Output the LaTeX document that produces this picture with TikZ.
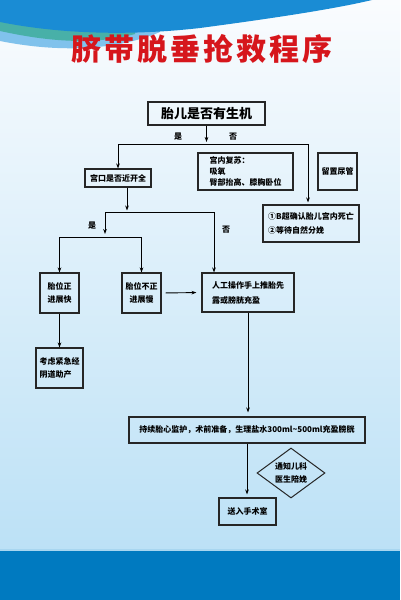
\documentclass[tikz,border=0pt]{standalone}
\usepackage{fontspec}
\usepackage{xcolor}
\usetikzlibrary{arrows.meta,shapes.geometric}
\setmainfont{Noto Sans CJK SC}

\definecolor{bgtop}{RGB}{250,252,254}
\definecolor{bgbot}{RGB}{188,225,246}
\definecolor{wavblue}{RGB}{26,140,212}
\definecolor{wavteal}{RGB}{72,176,168}
\definecolor{wavlight}{RGB}{128,194,236}
\definecolor{bandblue}{RGB}{0,122,192}
\definecolor{bandline}{RGB}{168,214,240}
\definecolor{titlered}{RGB}{214,22,28}

\tikzset{
  box/.style={draw=black!85, line width=1.1pt, inner sep=2pt, align=center,
    font=\fontsize{8}{13}\selectfont\bfseries},
  arr/.style={-{Stealth[length=5pt,width=3.6pt]}, line width=0.9pt},
  link/.style={line width=0.9pt},
  lbl/.style={font=\fontsize{8}{9}\selectfont\bfseries}
}

\begin{document}
\begin{tikzpicture}[x=1pt,y=-1pt]
    \useasboundingbox (0,0) rectangle (400,600);

    % Background
    \shade[top color=bgtop, bottom color=bgbot] (0,0) rectangle (400,550);
    \fill[bandblue] (0,550) rectangle (400,600);
    \draw[bandline, line width=1.5pt] (0,550) -- (400,550);

    % Top wave
    \fill[wavlight] (0,0) -- (0,41) .. controls (50,51) and (110,53) .. (160,32) -- (160,0) -- cycle;
    \fill[wavteal] (0,0) -- (0,31) .. controls (50,42) and (95,45) .. (135,34) -- (135,0) -- cycle;
    \fill[wavblue] (0,0) -- (0,22) .. controls (60,34) and (130,36) .. (200,28)
        .. controls (260,20) and (330,10) .. (372,0) -- cycle;

    % Title
    \node[text=titlered, font=\fontsize{30}{30}\selectfont\bfseries\addfontfeatures{LetterSpace=10}]
        (title) at (201.5,49) {脐带脱垂抢救程序};

    % Boxes
    \node[box, minimum width=117pt, minimum height=23pt, line width=1.3pt,
        font=\fontsize{13}{13}\selectfont\bfseries] (alive) at (206.5,113.5) {胎儿是否有生机};
    \node[box, minimum width=66pt, minimum height=18pt] (cervix) at (118,178) {宫口是否近开全};
    \node[box, minimum width=95pt, minimum height=37pt, align=left,
        font=\fontsize{8}{11}\selectfont\bfseries] (resus) at (245.5,171.5) {宫内复苏：\\吸氧\\臀部抬高、膝胸卧位};
    \node[box, minimum width=39pt, minimum height=37pt] (cath) at (337.5,171.5) {留置尿管};
    \node[box, minimum width=96pt, minimum height=37pt, align=left,
        font=\fontsize{8}{14}\selectfont\bfseries] (dead) at (311,223.5) {①B超确认胎儿宫内死亡\\②等待自然分娩};
    \node[box, minimum width=39pt, minimum height=40pt] (fast) at (59.5,293) {胎位正\\进展快};
    \node[box, minimum width=39pt, minimum height=40pt] (slow) at (141.5,293) {胎位不正\\进展慢};
    \node[box, minimum width=92pt, minimum height=39pt, align=left,
        font=\fontsize{8}{15}\selectfont\bfseries] (push) at (248,292.5) {人工操作手上推胎先\\露或膀胱充盈};
    \node[box, minimum width=47pt, minimum height=40pt, align=left] (vag) at (59.5,368) {考虑紧急经\\阴道助产};
    \node[box, minimum width=236pt, minimum height=26pt] (monitor) at (247,430)
        {持续胎心监护，术前准备，生理盐水300ml\textasciitilde500ml充盈膀胱};
    \node[box, diamond, aspect=1.36, inner sep=1pt, line width=1pt,
        minimum width=68pt, minimum height=50pt] (peds) at (291,473) {通知儿科\\医生陪娩};
    \node[box, minimum width=57pt, minimum height=27pt] (theatre) at (247.5,511.5) {送入手术室};

    % Labels
    \node[lbl] (yes1) at (178,137) {是};
    \node[lbl] (no1) at (233,137) {否};
    \node[lbl] (yes2) at (92,226) {是};
    \node[lbl] (no2) at (226,230) {否};

    % Junctions
    \coordinate (aL) at (118,144);
    \coordinate (aR) at (308,144);
    \coordinate (bM) at (127,212);
    \coordinate (bL) at (105,212);
    \coordinate (bR) at (214,212);
    \coordinate (cM) at (105,237);
    \coordinate (cL) at (59.5,237);
    \coordinate (cR) at (141.5,237);

    % Connectors
    \draw[arr, shorten >=2pt] (alive.south) -- (alive.south |- aL);
    \draw[link] (aL) -- (aR);
    \draw[arr] (aL) -- (cervix.north);
    \draw[arr, shorten >=2pt] (aR) -- (aR |- dead.north);
    \draw[arr, shorten >=1.5pt] (cervix.south -| bM) -- (bM);
    \draw[link] (bL) -- (bR);
    \draw[arr, shorten >=3pt] (bL) -- (cM);
    \draw[link] (cL) -- (cR);
    \draw[arr] (cL) -- (fast.north);
    \draw[arr] (cR) -- (slow.north);
    \draw[arr] (bR) -- (bR |- push.north);
    \draw[arr, shorten <=4pt, shorten >=5pt] (slow.east) -- (push.west);
    \draw[arr] (fast.south) -- (vag.north);
    \draw[arr, shorten >=4pt] (push.south) -- (push.south |- monitor.north);
    \draw[arr, shorten >=3pt] (monitor.south) -- (monitor.south |- theatre.north);
\end{tikzpicture}
\end{document}
